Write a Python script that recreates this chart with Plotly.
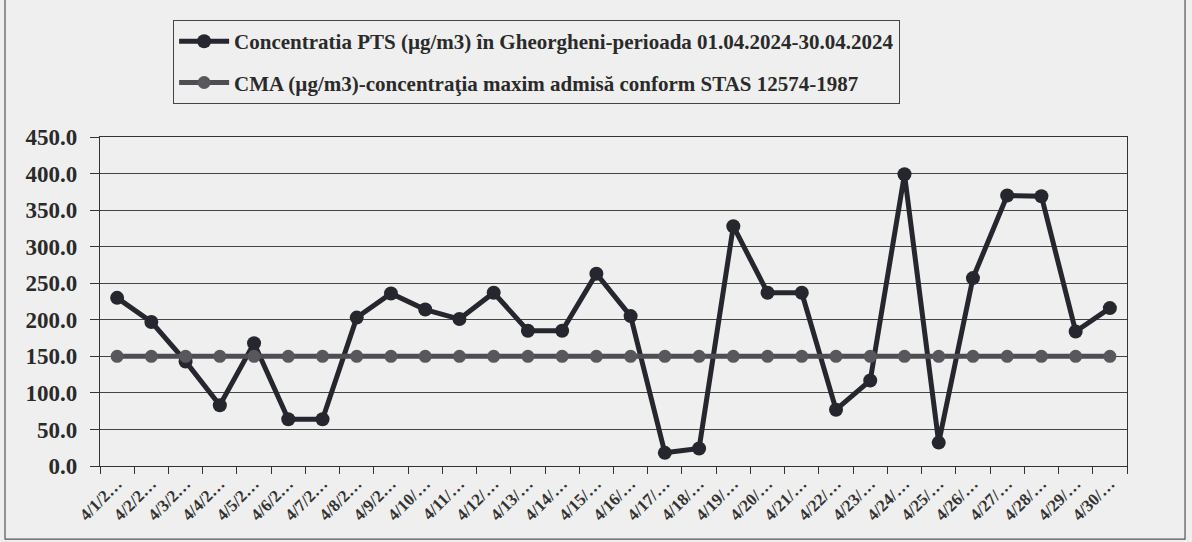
import plotly.graph_objects as go

# ---------- data ----------
days = [f"4/{d}/2…" if d < 10 else f"4/{d}/…" for d in range(1, 31)]
pts = [230, 197, 143, 83, 168, 64, 64, 203, 236, 214,
       201, 237, 185, 185, 263, 205, 18, 24, 328, 237,
       237, 77, 117, 399, 32, 257, 370, 369, 184, 216]
cma = [150] * 30

name_pts = "Concentratia PTS (µg/m3) în Gheorgheni-perioada 01.04.2024-30.04.2024"
name_cma = "CMA (µg/m3)-concentraţia maxim admisă conform STAS 12574-1987"

FONT = "Liberation Serif, Times New Roman, serif"
BG = "#efefef"

fig = go.Figure()
fig.add_trace(go.Scatter(
    x=days, y=pts, name=name_pts, mode="lines+markers",
    line=dict(color="#26262e", width=5),
    marker=dict(color="#26262e", size=14),
    legendgroup="a",
))
fig.add_trace(go.Scatter(
    x=days, y=cma, name=name_cma, mode="lines+markers",
    line=dict(color="#4e4e52", width=5),
    marker=dict(color="#58585c", size=13),
    legendgroup="b",
))

# outer frame of the chart (scan border)
fig.add_shape(type="rect", xref="paper", yref="paper",
              x0=-0.0925, x1=1.0565, y0=-0.222, y1=1.6,
              line=dict(color="#555", width=1.2), layer="below")

fig.update_layout(
    width=1192, height=542,
    margin=dict(l=100, r=65, t=137, b=76, autoexpand=False),
    paper_bgcolor=BG, plot_bgcolor=BG,
    font=dict(family=FONT, color="#2a2a2a"),
    showlegend=True,
    legend=dict(
        x=0.071, y=1.356, xanchor="left", yanchor="top",
        bgcolor=BG, bordercolor="#444", borderwidth=1.2,
        font=dict(family=FONT, size=21, color="#2a2a2a", weight="bold"),
        tracegroupgap=11, itemwidth=50,
    ),
)
fig.update_xaxes(
    type="category", range=[-0.5, 29.5], automargin=False,
    tickangle=-45, tickson="boundaries",
    ticks="outside", ticklen=7, tickcolor="#333",
    showline=True, linecolor="#333", linewidth=1.2, mirror=True,
    showgrid=False,
    tickfont=dict(family=FONT, size=17, color="#333", weight="bold"),
)
fig.update_yaxes(
    range=[0, 450], dtick=50, tickformat=".1f", automargin=False,
    ticks="outside", ticklen=9, tickcolor="#333", ticklabelstandoff=8,
    showline=True, linecolor="#333", linewidth=1.2, mirror=True,
    showgrid=True, gridcolor="#444", gridwidth=1,
    zeroline=False,
    tickfont=dict(family=FONT, size=23, color="#2a2a2a", weight="bold"),
)

# page has a default 8px body margin; drop it so the figure fills the window
fig.write_html("out.html", config={"displayModeBar": False},
               post_script="document.body.style.margin='0px';")
